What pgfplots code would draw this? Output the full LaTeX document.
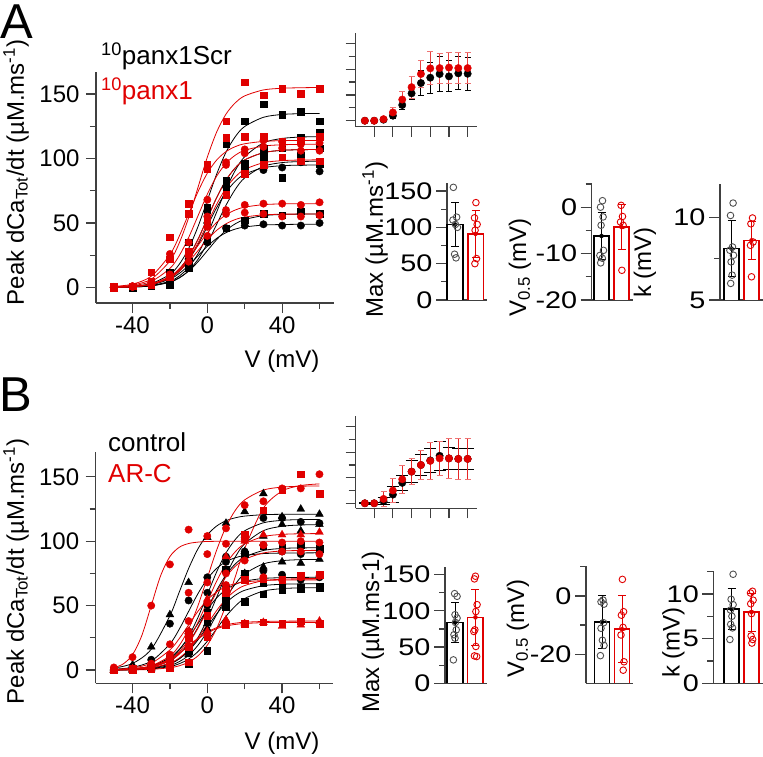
\documentclass[border=0pt]{standalone}
\usepackage{fontspec}
\setmainfont{Liberation Sans}
\usepackage{graphicx}
\usepackage{pgfplots}
\usepackage{pgfplotstable}
\pgfplotsset{compat=1.18}

\definecolor{pred}{RGB}{224,0,0}
\definecolor{axg}{RGB}{64,64,64}
\definecolor{dotg}{RGB}{80,80,80}

\newcommand\lab{\fontsize{24}{28}\selectfont}
\newcommand\tkf{\fontsize{24}{27}\selectfont}

\pgfplotsset{
  base/.style={scale only axis, clip=false, anchor=south west,
    axis x line*=bottom, axis y line*=left,
    axis line style={axg, line width=1.2pt},
    tick style={axg, line width=1.2pt},
    tick align=outside,
    tick label style={font=\tkf, black},
    /pgf/number format/assume math mode=true},
  iv/.style={base, xtick={-40,0,40}, minor xtick={-20,20,60},
    ytick={0,50,100,150}, minor ytick={25,75,125},
    major tick length=10pt, minor tick length=6pt,
    yticklabel style={xshift=-3pt}},
  ins/.style={base, width=121.3pt, xmin=-59.8, xmax=70,
    xtick={-40,-20,0,20,40,60}, ytick={0,50,100,150}, minor ytick={25,75,125},
    xticklabels={}, yticklabels={}, major tick length=10pt, minor tick length=7pt},
  bars/.style={base, xtick=\empty, major tick length=11pt, minor tick length=6pt,
    yticklabel={\scalebox{1.2}[1]{\pgfmathprintnumber{\tick}}}},
  bk/.style={black, line width=1.6pt, fill=white},
  br/.style={pred, line width=1.6pt, fill=white},
  ptk/.style={dotg, only marks, mark=o, mark size=3.3pt, line width=0.9pt},
  ptr/.style={pred, only marks, mark=o, mark size=3.3pt, line width=0.9pt},
  ebk/.style={black, only marks, mark=none, error bars/.cd, y dir=both, y explicit,
    error bar style={line width=1pt}, error mark options={rotate=90, mark size=4pt, line width=1pt}},
  ebr/.style={pred, only marks, mark=none, error bars/.cd, y dir=both, y explicit,
    error bar style={line width=1pt}, error mark options={rotate=90, mark size=4pt, line width=1pt}},
}

% one recorded cell: fitted curve and measured points
\newcommand\ivcell[5]{%
  \addplot[#4, line width=0.8pt, smooth, mark=none] table[x=V, y=#3] {#1};
  \addplot[#4, only marks, mark size=3.3pt, #5] table[x=V, y=#3] {#2};
}

% ---------- panel A, fits and points ----------
\pgfplotstableread{
V b1 b2 b3 b4 b5 b6 b7 r1 r2 r3 r4 r5 r6 r7
-50 0.3 0.1 0.2 0.1 0.2 0.1 0.2 0.6 0.8 0.4 0.2 0.2 0.2 0.2
-40 0.9 0.4 0.7 0.4 0.6 0.4 0.6 1.9 2.6 1.4 0.7 0.7 0.8 0.7
-30 3.1 1.5 2.5 1.2 2.2 1.3 2.1 6.5 8.7 4.7 2.5 2.3 2.7 2.4
-20 10.2 4.9 8.1 4.1 7.2 4.3 6.5 20.6 25.4 14.8 8.1 7.5 8.6 7.6
-15 18.0 8.9 14.2 7.4 12.6 7.6 10.9 34.5 39.8 24.7 14.2 13.2 14.5 12.7
-10 30.1 15.6 23.8 13.0 21.2 12.7 17.1 54.0 57.0 38.7 23.8 22.0 22.7 19.9
-5 47.1 26.1 37.3 21.8 33.1 19.9 24.5 77.5 74.2 55.5 37.3 34.5 32.5 28.5
0 67.5 40.8 53.5 34.2 47.5 28.5 31.9 101.0 88.6 72.3 53.5 49.5 42.3 37.1
5 87.9 58.5 69.7 49.0 61.9 37.1 38.1 120.5 98.8 86.3 69.7 64.5 50.5 44.3
10 104.9 76.2 83.2 63.8 73.8 44.3 42.5 134.4 105.3 96.2 83.2 77.0 56.4 49.4
15 117.0 90.9 92.8 76.2 82.4 49.4 45.3 143.2 109.2 102.6 92.8 85.8 60.1 52.7
20 124.8 101.4 98.9 85.0 87.8 52.7 46.9 148.5 111.4 106.3 98.9 91.5 62.3 54.6
30 131.9 112.1 104.5 93.9 92.8 55.7 48.4 153.1 113.2 109.6 104.5 96.7 64.2 56.3
40 134.1 115.5 106.3 96.8 94.4 56.6 48.8 154.4 113.8 110.6 106.3 98.3 64.8 56.8
50 134.7 116.6 106.8 97.6 94.8 56.9 49.0 154.8 113.9 110.9 106.8 98.8 64.9 56.9
60 134.9 116.9 106.9 97.9 94.9 57.0 49.0 155.0 114.0 111.0 106.9 98.9 65.0 57.0
}\fitA
\pgfplotstableread{
V b1 b2 b3 b4 b5 b6 b7 r1 r2 r3 r4 r5 r6 r7
-50 0.3 0 0 0 0 0 0 0.5 1 0.5 0 0 0 0
-40 1 0.5 1 0 0.5 0.5 0.5 1 1 1 0.5 1 1 0.5
-30 3 2 3 1 2 1 2 5 12 4 2 2 2 2
-20 8 5 12 2 6 4 7 22 39 26 10 8 9 10
-10 35 17 20 20 22 15 19 65 57 35 25 28 20 25
0 62 52 60 36 50 38 35 95 92 68 55 52 47 40
10 111 78 83 78 78 46 46 129 116 97 95 72 60 57
20 129 96 93 89 89 52 48 159 117 107 104 88 64 58
30 142 108 103 97 91 57 49 149 117 114 109 95 65 57
40 134 112 108 85 93 56 48 154 113 113 108 101 65 55
50 136 116 102 98 97 59 48 150 114 111 106 98 64 55
60 129 120 108 96 90 57 50 154 117 112 106 98 66 56
}\datA

% ---------- panel B, fits and points ----------
\pgfplotstableread{
V k1 k2 k3 k4 k5 k6 k7 k8 k9 q2 q3 q4 q5 q6 q7 q8 q9
-50 1.5 0.2 0.1 0.2 0.6 0.3 0.1 0.1 0.1 0.3 0.0 0.2 0.2 0.1 0.2 0.3 0.5
-40 5.1 0.8 0.3 0.6 2.1 0.9 0.4 0.2 0.4 1.0 0.1 0.7 0.6 0.5 0.9 0.9 1.6
-30 16.1 2.7 1.1 2.2 6.9 3.0 1.5 0.8 1.4 3.3 0.5 2.4 2.1 1.6 2.8 2.9 5.3
-20 42.2 8.9 3.6 7.2 20.3 9.6 5.1 2.7 4.8 10.9 1.8 8.0 7.1 5.4 8.2 8.5 15.6
-15 60.5 15.6 6.5 12.6 31.7 16.0 8.9 4.9 8.6 19.0 3.3 14.1 12.4 9.4 12.9 13.3 24.4
-10 78.8 26.1 11.4 21.2 45.5 25.1 14.9 8.5 15.0 31.8 6.1 23.6 20.7 15.8 18.5 19.0 35.0
-5 94.1 40.8 19.2 33.1 59.3 36.0 23.4 14.3 25.2 49.9 11.0 37.0 32.4 24.8 24.1 24.7 45.6
0 104.9 58.5 30.0 47.5 70.7 46.9 33.5 22.3 39.4 71.5 19.3 53.0 46.5 35.5 28.8 29.5 54.4
5 111.8 76.2 43.0 61.9 78.9 56.0 43.6 32.0 56.5 93.1 32.3 69.0 60.6 46.2 32.1 32.9 60.7
10 115.9 90.9 56.0 73.8 84.1 62.4 52.1 41.7 73.6 111.2 50.6 82.4 72.3 55.2 34.2 35.1 64.7
15 118.2 101.4 66.8 82.4 87.2 66.5 58.1 49.7 87.8 124.0 72.5 91.9 80.6 61.6 35.4 36.4 67.1
20 119.5 108.1 74.6 87.8 88.9 69.0 61.9 55.5 98.0 132.1 94.4 98.0 85.9 65.6 36.1 37.1 68.4
30 120.6 114.3 82.4 92.8 90.4 71.1 65.5 61.3 108.2 139.7 125.7 103.6 90.9 69.4 36.8 37.7 69.5
40 120.9 116.2 84.9 94.4 90.8 71.7 66.6 63.2 111.6 142.0 138.9 105.3 92.4 70.5 36.9 37.9 69.9
50 121.0 116.8 85.7 94.8 90.9 71.9 66.9 63.8 112.6 142.7 143.2 105.8 92.8 70.9 37.0 38.0 70.0
60 121.0 116.9 85.9 94.9 91.0 72.0 67.0 63.9 112.9 142.9 144.5 105.9 92.9 71.0 37.0 38.0 70.0
}\fitB
\pgfplotstableread{
V k1 k2 k3 k4 k5 k6 k7 k8 k9 q1 q2 q3 q4 q5 q6 q7 q8 q9
-50 1 0 0 0 0.5 0 0 0 0 2 0 0 0 0 0 0 0 0
-40 4 1 0 1 2 1 0.5 0 0 10 1 0 1 0.5 0.5 1 0.5 1
-30 18 3 1 2 8 3 1 0.5 1 50 3 1 2 2 1 3 2 5
-20 43 10 4 6 36 10 5 2 5 82 10 2 8 12 5 5 10 20
-10 68 30 12 25 54 28 15 5 18 109 30 6 30 38 25 18 20 60
0 103 60 32 45 72 50 38 15 36 104 90 26 55 52 42 26 30 68
10 114 88 57 78 84 65 55 49 60 98 110 60 88 75 62 35 39 66
20 123 103 75 90 92 72 75 53 92 101 128 105 100 85 70 36 36 70
30 137 118 80 96 97 77 68 59 104 97 131 124 105 97 71 37 37 72
40 119 118 84 95 92 74 64 62 113 99 141 140 105 92 70 36 34 70
50 125 115 83 97 90 70 63 64 108 100 141 152 105 92 73 38 35 72
60 121 114 86 94 91 72 65 64 113 99 152 137 107 90 74 36 38 73
}\datB

% ---------- insets: mean and SD ----------
\pgfplotstableread{
V m s
-50 0 1
-40 0 1
-30 2 2
-20 9.7 5
-10 30.4 9
0 53 12
10 73 24
20 83.4 30
30 90.5 33
40 86 30
50 91.8 32
60 91 32
}\insAk
\pgfplotstableread{
V m s
-50 0 1
-40 0 1
-30 3 3
-20 16 9
-10 41 15
0 65 21
10 90.5 26
20 101.5 32
30 102 29
40 103 30
50 102 30
60 102 30
}\insAr
\pgfplotstableread{
V m s
-50 0 1
-40 0 2
-30 4 7
-20 17 15
-10 40 14
0 62 21
10 75 20
20 84 24
30 93 28
40 88 21
50 87 21
60 87 20
}\insBk
\pgfplotstableread{
V m s
-50 0 1
-40 0 1
-30 8.5 15
-20 25 24
-10 47 28
0 62 26
10 75 29
20 83 37
30 88 34
40 88 39
50 87 40
60 87 40
}\insBr

\begin{document}
\begin{tikzpicture}
\useasboundingbox (0pt,0pt) rectangle (763pt,757pt);

% ===== A: main I-V =====
\begin{axis}[iv, at={(96pt,454pt)}, width=238pt, height=231pt,
  xmin=-59.5, xmax=67.7, ymin=-12, ymax=167]
\ivcell{\fitA}{\datA}{b1}{black}{mark=square*}
\ivcell{\fitA}{\datA}{b2}{black}{mark=square*}
\ivcell{\fitA}{\datA}{b3}{black}{mark=square*}
\ivcell{\fitA}{\datA}{b4}{black}{mark=square*}
\ivcell{\fitA}{\datA}{b5}{black}{mark=*, mark size=3.7pt}
\ivcell{\fitA}{\datA}{b6}{black}{mark=square*}
\ivcell{\fitA}{\datA}{b7}{black}{mark=*, mark size=3.7pt}
\ivcell{\fitA}{\datA}{r1}{pred}{mark=square*}
\ivcell{\fitA}{\datA}{r2}{pred}{mark=square*}
\ivcell{\fitA}{\datA}{r3}{pred}{mark=*, mark size=3.7pt}
\ivcell{\fitA}{\datA}{r4}{pred}{mark=*, mark size=3.7pt}
\ivcell{\fitA}{\datA}{r5}{pred}{mark=square*}
\ivcell{\fitA}{\datA}{r6}{pred}{mark=*, mark size=3.7pt}
\ivcell{\fitA}{\datA}{r7}{pred}{mark=*, mark size=3.7pt}
\end{axis}

% ===== A: inset =====
\begin{axis}[ins, at={(355.7pt,630.3pt)}, height=93.7pt, ymin=-11.6, ymax=170]
\addplot[black, only marks, mark=*, mark size=3.7pt,
  error bars/.cd, y dir=both, y explicit, error bar style={line width=1pt},
  error mark options={rotate=90, mark size=3pt, line width=1pt}]
  table[x=V, y=m, y error=s] {\insAk};
\addplot[pred, only marks, mark=*, mark size=3.7pt,
  error bars/.cd, y dir=both, y explicit, error bar style={line width=1pt, pred!75},
  error mark options={rotate=90, mark size=3pt, line width=1pt, pred!55}]
  table[x=V, y=m, y error=s] {\insAr};
\end{axis}

% ===== A: Max =====
\begin{axis}[bars, at={(447pt,457pt)}, width=40pt, height=117pt,
  xmin=0.61, xmax=2.56, ymin=0, ymax=161, ytick={0,50,100,150}, minor ytick={25,75,125}]
\addplot[bk] coordinates {(0.62,0) (0.62,104) (1.38,104) (1.38,0)};
\addplot[br] coordinates {(1.62,0) (1.62,91) (2.38,91) (2.38,0)};
\addplot[ebk] coordinates {(1,104) +- (0,30)};
\addplot[ebr] coordinates {(2,91) +- (0,32)};
\addplot[ptk] coordinates {(0.92,155) (1.08,114) (0.9,110) (1.02,104) (1.12,100) (0.98,63) (1.05,58)};
\addplot[ptr] coordinates {(2.02,134) (1.95,113) (2.08,104) (1.98,96) (2.05,57) (1.97,50)};
\end{axis}

% ===== A: V0.5 =====
\begin{axis}[bars, at={(591.7pt,457pt)}, width=41.3pt, height=116pt,
  xmin=0.51, xmax=2.575, ymin=-20, ymax=5, ytick={-20,-10,0}, minor ytick={-15,-5,5}]
\addplot[bk] coordinates {(0.62,-20) (0.62,-6.2) (1.38,-6.2) (1.38,-20)};
\addplot[br] coordinates {(1.62,-20) (1.62,-4.3) (2.38,-4.3) (2.38,-20)};
\addplot[ebk] coordinates {(1,-6.2) +- (0,5.1)};
\addplot[ebr] coordinates {(2,-4.3) +- (0,4.8)};
\addplot[ptk] coordinates {(1.05,1.4) (0.95,0) (1.08,-2.1) (0.98,-3.9) (1.1,-9.3) (0.92,-10.4) (1.04,-11) (0.96,-12)};
\addplot[ptr] coordinates {(1.98,0.4) (2.05,-2) (1.95,-3.2) (2.08,-3.9) (2.02,-13.6)};
\end{axis}

% ===== A: k =====
\begin{axis}[bars, at={(720pt,457pt)}, width=43pt, height=116pt,
  xmin=0.425, xmax=2.575, ymin=5, ymax=12, ytick={5,10}, minor ytick={7.5}]
\addplot[bk] coordinates {(0.62,5) (0.62,8.1) (1.38,8.1) (1.38,5)};
\addplot[br] coordinates {(1.62,5) (1.62,8.6) (2.38,8.6) (2.38,5)};
\addplot[ebk] coordinates {(1,8.1) +- (0,1.7)};
\addplot[ebr] coordinates {(2,8.6) +- (0,1.15)};
\addplot[ptk] coordinates {(1.08,10.85) (0.95,10.1) (1.05,8.2) (0.92,8.0) (1.1,7.7) (0.98,7.3) (1.03,6.5) (0.96,6.0)};
\addplot[ptr] coordinates {(2.05,9.95) (1.97,9.6) (2.08,8.5) (1.95,8.3) (2.0,6.4)};
\end{axis}

% ===== B: main I-V =====
\begin{axis}[iv, at={(95.7pt,73.7pt)}, width=237.6pt, height=231.6pt,
  xmin=-59.7, xmax=67.4, ymin=-10.3, ymax=169.5]
\ivcell{\fitB}{\datB}{k1}{black}{mark=triangle*, mark size=4.5pt}
\ivcell{\fitB}{\datB}{k2}{black}{mark=*, mark size=3.7pt}
\ivcell{\fitB}{\datB}{k3}{black}{mark=triangle*, mark size=4.5pt}
\ivcell{\fitB}{\datB}{k4}{black}{mark=square*}
\ivcell{\fitB}{\datB}{k5}{black}{mark=*, mark size=3.7pt}
\ivcell{\fitB}{\datB}{k6}{black}{mark=*, mark size=3.7pt}
\ivcell{\fitB}{\datB}{k7}{black}{mark=square*}
\ivcell{\fitB}{\datB}{k8}{black}{mark=square*}
\ivcell{\fitB}{\datB}{k9}{black}{mark=triangle*, mark size=4.5pt}
\addplot[pred, line width=0.8pt, smooth, mark=none] coordinates {
  (-50,1.8) (-45,4.7) (-40,11.9) (-35,26.9) (-30,50) (-25,73.1) (-20,88.1)
  (-15,95.3) (-10,98.2) (-5,99.3) (0,99.8) (10,100) (20,100) (40,100) (60,100)};
\addplot[pred, only marks, mark=*, mark size=3.7pt] table[x=V, y=q1] {\datB};
\ivcell{\fitB}{\datB}{q2}{pred}{mark=*, mark size=3.7pt}
\ivcell{\fitB}{\datB}{q3}{pred}{mark=square*}
\ivcell{\fitB}{\datB}{q4}{pred}{mark=triangle*, mark size=4.5pt}
\ivcell{\fitB}{\datB}{q5}{pred}{mark=*, mark size=3.7pt}
\ivcell{\fitB}{\datB}{q6}{pred}{mark=square*}
\ivcell{\fitB}{\datB}{q7}{pred}{mark=square*}
\ivcell{\fitB}{\datB}{q8}{pred}{mark=triangle*, mark size=4.5pt}
\ivcell{\fitB}{\datB}{q9}{pred}{mark=*, mark size=3.7pt}
\end{axis}

% ===== B: inset =====
\begin{axis}[ins, at={(355.7pt,248.7pt)}, height=92.3pt, ymin=-9.8, ymax=171]
\addplot[black, only marks, mark=*, mark size=3.7pt,
  error bars/.cd, y dir=both, y explicit, error bar style={line width=1pt},
  error mark options={rotate=90, mark size=6pt, line width=1pt}]
  table[x=V, y=m, y error=s] {\insBk};
\addplot[pred, only marks, mark=*, mark size=3.7pt,
  error bars/.cd, y dir=both, y explicit, error bar style={line width=1pt, pred!85},
  error mark options={rotate=90, mark size=3pt, line width=1pt, pred!55}]
  table[x=V, y=m, y error=s] {\insBr};
\end{axis}

% ===== B: Max =====
\begin{axis}[bars, at={(445pt,73.7pt)}, width=41.7pt, height=116.7pt,
  xmin=0.51, xmax=2.55, ymin=0, ymax=161, ytick={0,50,100,150}, minor ytick={25,75,125}]
\addplot[bk] coordinates {(0.62,0) (0.62,84) (1.38,84) (1.38,0)};
\addplot[br] coordinates {(1.62,0) (1.62,91) (2.38,91) (2.38,0)};
\addplot[ebk] coordinates {(1,84) +- (0,28)};
\addplot[ebr] coordinates {(2,91) +- (0,39)};
\addplot[ptk] coordinates {(0.98,123.7) (1.1,120) (1.0,94.6) (1.1,90) (1.02,84) (1.06,73.8) (0.95,67) (1.0,62.3) (0.92,32.3)};
\addplot[ptr] coordinates {(2.0,147.7) (1.95,144) (2.08,108.5) (2.02,99) (1.97,73.8) (1.92,71.5) (2.02,50.8) (1.95,37.8) (2.06,36.9)};
\end{axis}

% ===== B: V0.5 =====
\begin{axis}[bars, at={(586pt,73.7pt)}, width=47pt, height=117.3pt,
  xmin=0.2, xmax=2.55, ymin=-30, ymax=10.3, ytick={-20,0}, minor ytick={-10,10}]
\addplot[bk] coordinates {(0.62,-30) (0.62,-8.9) (1.38,-8.9) (1.38,-30)};
\addplot[br] coordinates {(1.62,-30) (1.62,-11.4) (2.38,-11.4) (2.38,-30)};
\addplot[ebk] coordinates {(1,-8.9) +- (0,9)};
\addplot[ebr] coordinates {(2,-11.4) +- (0,11.6)};
\addplot[ptk] coordinates {(1.05,-1.4) (0.95,-2) (1.1,-2.8) (1.08,-9.2) (0.95,-11.1) (1.02,-15.2) (1.1,-17) (0.92,-20.5)};
\addplot[ptr] coordinates {(2.02,5.7) (2.08,-5.4) (1.97,-6.6) (2.05,-10.8) (1.95,-13.4) (2.1,-22.6) (2.06,-25.5)};
\end{axis}

% ===== B: k =====
\begin{axis}[bars, at={(713.3pt,73.7pt)}, width=49.7pt, height=112.6pt,
  xmin=0.09, xmax=2.575, ymin=0, ymax=12.6, ytick={0,5,10}, minor ytick={2.5,7.5,12.5}]
\addplot[bk] coordinates {(0.62,0) (0.62,8.3) (1.38,8.3) (1.38,0)};
\addplot[br] coordinates {(1.62,0) (1.62,7.95) (2.38,7.95) (2.38,0)};
\addplot[ebk] coordinates {(1,8.3) +- (0,2.3)};
\addplot[ebr] coordinates {(2,7.95) +- (0,2.15)};
\addplot[ptk] coordinates {(1.08,12.2) (0.98,9.4) (1.08,8.8) (0.95,8.2) (1.02,7.5) (0.96,6.6) (1.05,6.2) (0.92,4.9)};
\addplot[ptr] coordinates {(2.05,10.3) (1.95,10.1) (2.08,9.3) (1.96,8.9) (2.0,7.8) (1.98,5.3) (2.06,4.9) (2.02,4.5)};
\end{axis}

% ===== text =====
\node[font=\fontsize{49}{52}\selectfont, inner sep=0pt] at (17pt,735pt) {A};
\node[font=\fontsize{49}{52}\selectfont, inner sep=0pt] at (16pt,362pt) {B};
\node[font=\lab, rotate=90, inner sep=0pt] at (16pt,584.5pt) {Peak dCa\textsubscript{Tot}/dt (µM.ms\textsuperscript{-1})};
\node[font=\lab, rotate=90, inner sep=0pt] at (16pt,185.5pt) {Peak dCa\textsubscript{Tot}/dt (µM.ms\textsuperscript{-1})};
\node[font=\lab, anchor=base, inner sep=0pt] at (282pt,389pt) {V (mV)};
\node[font=\lab, anchor=base, inner sep=0pt] at (282pt,7pt) {V (mV)};
\node[font=\fontsize{26}{28}\selectfont, anchor=base west, inner sep=0pt] at (101pt,692pt) {\textsuperscript{10}panx1Scr};
\node[font=\fontsize{26}{28}\selectfont, anchor=base west, inner sep=0pt, text=pred] at (101pt,657pt) {\textsuperscript{10}panx1};
\node[font=\fontsize{26}{28}\selectfont, anchor=base west, inner sep=0pt] at (108pt,305pt) {control};
\node[font=\fontsize{26}{28}\selectfont, anchor=base west, inner sep=0pt, text=pred] at (108pt,274pt) {AR-C};
\node[font=\lab, rotate=90, anchor=west, inner sep=0pt] at (375pt,439pt) {Max (µM.ms\textsuperscript{-1})};
\node[font=\lab, rotate=90, anchor=west, inner sep=0pt] at (520pt,440pt) {V\textsubscript{0.5} (mV)};
\node[font=\lab, rotate=90, anchor=west, inner sep=0pt] at (645pt,459pt) {k (mV)};
\node[font=\lab, rotate=90, anchor=west, inner sep=0pt] at (373pt,44pt) {Max (µM.ms-1)};
\node[font=\lab, rotate=90, anchor=west, inner sep=0pt] at (518pt,79pt) {V\textsubscript{0.5} (mV)};
\node[font=\lab, rotate=90, anchor=west, inner sep=0pt] at (673.5pt,79pt) {k (mV)};
\end{tikzpicture}
\end{document}
